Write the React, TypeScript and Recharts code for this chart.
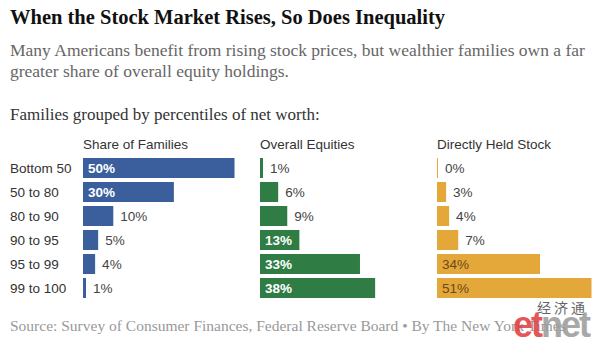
import React from "react";
import { BarChart, Bar, XAxis, YAxis, LabelList, Cell } from "recharts";

const groups = ["Bottom 50", "50 to 80", "80 to 90", "90 to 95", "95 to 99", "99 to 100"];
const shareOfFamilies = [50, 30, 10, 5, 4, 1];
const overallEquities = [1, 6, 9, 13, 33, 38];
const directlyHeld = [0, 3, 4, 7, 34, 51];

const PX_PER_PCT = 3.03;
const ROW_TOP = 156;
const CHART_H = 144;
const SANS = "'Liberation Sans', Arial, sans-serif";
const SERIF = "'Liberation Serif', 'Times New Roman', serif";

const rows = groups.map((g, i) => ({
  group: g,
  families: shareOfFamilies[i],
  equities: overallEquities[i],
  direct: directlyHeld[i],
}));

function makeLabel(insideColor: string, insideBold: boolean) {
  return (props: any) => {
    const { x, y, width, height, value } = props;
    const inside = value >= 12;
    return (
      <text
        x={inside ? x + 5 : x + width + 7}
        y={y + height / 2}
        dy="0.36em"
        fontSize={13.5}
        fontFamily={SANS}
        fontWeight={inside && insideBold ? "bold" : "normal"}
        fill={inside ? insideColor : "#444"}
      >
        {value}%
      </text>
    );
  };
}

const RowTick = (props: any) => {
  const { y, payload } = props;
  return (
    <text x={10} y={y} dy="0.36em" fontSize={13.5} fontFamily={SANS} fill="#333">
      {payload.value}
    </text>
  );
};

function Panel({ left, dataKey, max, color, width, showRows, insideColor, insideBold }: any) {
  const plotW = max * PX_PER_PCT;
  const axisW = showRows ? 83 : 0;
  return (
    <div style={{ position: "absolute", left, top: ROW_TOP }}>
      <BarChart
        width={width}
        height={CHART_H}
        data={rows}
        layout="vertical"
        margin={{ top: 0, right: width - axisW - plotW, bottom: 0, left: 0 }}
        barSize={20}
      >
        <XAxis type="number" domain={[0, max]} hide />
        <YAxis
          type="category"
          dataKey="group"
          width={axisW}
          hide={!showRows}
          axisLine={false}
          tickLine={false}
          tick={<RowTick />}
        />
        <Bar dataKey={dataKey} fill={color} minPointSize={1} isAnimationActive={false}>
          {rows.map((r, i) => (
            <Cell key={i} fill={color} />
          ))}
          <LabelList dataKey={dataKey} content={makeLabel(insideColor, insideBold)} />
        </Bar>
      </BarChart>
    </div>
  );
}

const headStyle: React.CSSProperties = {
  position: "absolute",
  top: 137,
  fontFamily: SANS,
  fontSize: 13.5,
  color: "#333",
};

export default function App() {
  return (
    <div
      style={{
        position: "absolute",
        left: 0,
        top: 0,
        width: 599,
        height: 346,
        background: "#fff",
        overflow: "hidden",
      }}
    >
      <div
        style={{
          position: "absolute",
          left: 10,
          top: 6,
          fontFamily: SERIF,
          fontWeight: "bold",
          fontSize: 20.5,
          color: "#111",
          whiteSpace: "nowrap",
        }}
      >
        When the Stock Market Rises, So Does Inequality
      </div>
      <div
        style={{
          position: "absolute",
          left: 10,
          top: 40,
          fontFamily: SERIF,
          fontSize: 17.5,
          lineHeight: "21px",
          color: "#666",
          whiteSpace: "nowrap",
        }}
      >
        Many Americans benefit from rising stock prices, but wealthier families own a far
        <br />
        greater share of overall equity holdings.
      </div>
      <div
        style={{
          position: "absolute",
          left: 10,
          top: 105,
          fontFamily: SERIF,
          fontSize: 17,
          color: "#333",
          whiteSpace: "nowrap",
        }}
      >
        Families grouped by percentiles of net worth:
      </div>

      <div style={{ ...headStyle, left: 83 }}>Share of Families</div>
      <div style={{ ...headStyle, left: 260 }}>Overall Equities</div>
      <div style={{ ...headStyle, left: 437 }}>Directly Held Stock</div>

      <Panel left={0} dataKey="families" max={50} color="#3a5f9c" width={260} showRows insideColor="#fff" insideBold />
      <Panel left={260} dataKey="equities" max={38} color="#2f7d45" width={177} insideColor="#fff" insideBold />
      <Panel left={437} dataKey="direct" max={51} color="#e4a73a" width={162} insideColor="#6b4a1a" insideBold={false} />

      <div
        style={{
          position: "absolute",
          left: 10,
          top: 317,
          fontFamily: SERIF,
          fontSize: 15.5,
          color: "#999",
          whiteSpace: "nowrap",
        }}
      >
        Source: Survey of Consumer Finances, Federal Reserve Board • By The New York Times
      </div>

      <div
        style={{
          position: "absolute",
          left: 537,
          top: 300,
          fontFamily: "'Noto Sans CJK SC', sans-serif",
          fontSize: 14,
          lineHeight: "15px",
          color: "#666",
          letterSpacing: 3,
        }}
      >
        经济通
      </div>
      <div
        style={{
          position: "absolute",
          left: 513,
          top: 304,
          fontFamily: SANS,
          fontWeight: "bold",
          fontSize: 36,
          letterSpacing: -2,
          opacity: 0.85,
          whiteSpace: "nowrap",
        }}
      >
        <span style={{ color: "#e0393e" }}>et</span>
        <span style={{ color: "#9a9a9a" }}>net</span>
      </div>
    </div>
  );
}
